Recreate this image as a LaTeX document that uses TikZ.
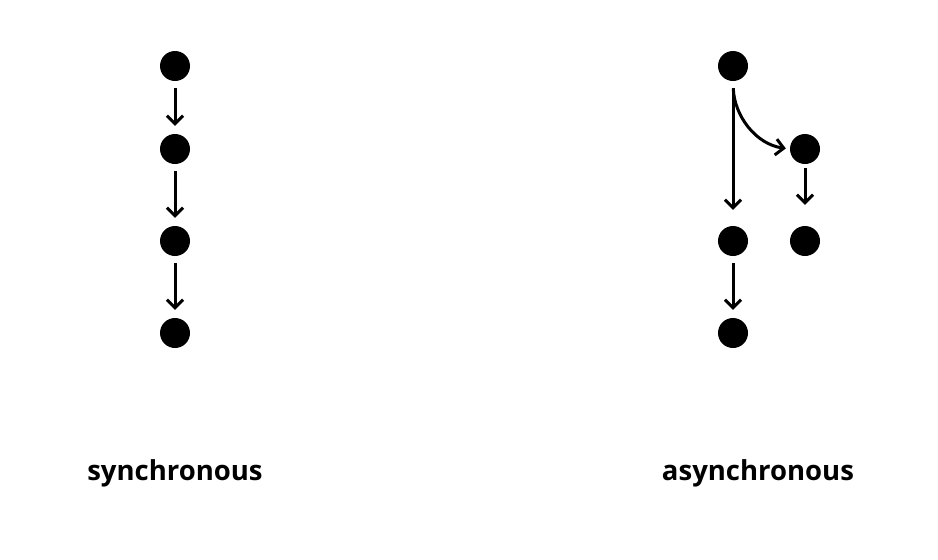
\documentclass[tikz,border=0pt]{standalone}
\usepackage{fontspec}
\setmainfont{Open Sans}
\usetikzlibrary{arrows.meta}
\begin{document}
\begin{tikzpicture}[x=1pt,y=-1pt,
  dot/.style={circle,fill=black,minimum size=30pt,inner sep=0pt},
  arr/.style={-{Straight Barb[length=8pt,width=16pt,line width=3pt]},line width=3pt,shorten <=7pt},
  lbl/.style={font=\fontsize{27.5}{32}\selectfont\bfseries}]
\useasboundingbox[fill=white] (0,0) rectangle (938,560);
% synchronous
\node[dot] (s1) at (175,66) {};
\node[dot] (s2) at (175,149) {};
\node[dot] (s3) at (175,241) {};
\node[dot] (s4) at (175,333) {};
\draw[arr,shorten >=8pt] (s1) -- (s2);
\draw[arr,shorten >=8pt] (s2) -- (s3);
\draw[arr,shorten >=8pt] (s3) -- (s4);
% asynchronous
\node[dot] (a1) at (733,66) {};
\node[dot] (a2) at (805,149) {};
\node[dot] (a3) at (733,241) {};
\node[dot] (a4) at (805,241) {};
\node[dot] (a5) at (733,333) {};
\draw[arr,shorten >=16pt] (a1) -- (a3);
\draw[arr,shorten >=4pt] (a1.south) to[out=-88,in=172] (a2.west);
\draw[arr,shorten <=4pt,shorten >=21pt] (a2) -- (a4);
\draw[arr,shorten >=8pt] (a3) -- (a5);
\node[lbl] (t1) at (175,473) {synchronous};
\node[lbl] (t2) at (758,473) {asynchronous};
\end{tikzpicture}
\end{document}
